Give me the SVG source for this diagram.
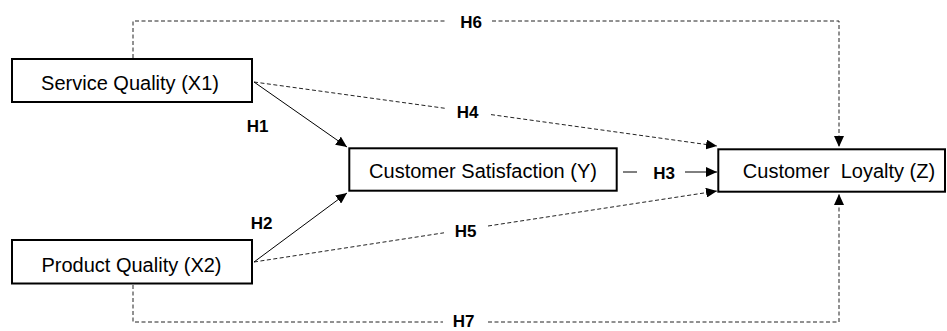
<svg xmlns="http://www.w3.org/2000/svg" width="947" height="331" viewBox="0 0 947 331">
<style>
.box{fill:#fff;stroke:#000;stroke-width:2}
.nt{font-family:"Liberation Sans",Arial,sans-serif;font-size:20px;fill:#000;text-anchor:middle}
.lb{font-family:"Liberation Sans",Arial,sans-serif;font-size:17px;font-weight:bold;fill:#000;text-anchor:middle}
.solid{fill:none;stroke:#000;stroke-width:1}
.dash{fill:none;stroke:#222;stroke-width:1;stroke-dasharray:4 2.5}
</style>
<defs>
<marker id="ah" markerUnits="userSpaceOnUse" markerWidth="11" markerHeight="10" refX="11" refY="5" orient="auto">
<path d="M0,0 L11,5 L0,10 Z" fill="#000"/>
</marker>
</defs>
<rect width="947" height="331" fill="#fff"/>
<g id="connectors">
<path class="dash" d="M133,58 V21 H447"/>
<path class="dash" d="M492,21 H839 V147" marker-end="url(#ah)"/>
<path class="dash" d="M133,285 V322 H443"/>
<path class="dash" d="M488,322 H839 V194" marker-end="url(#ah)"/>
<path class="dash" d="M254,82 L445,108.3"/>
<path class="dash" d="M491,114.6 L717,146" marker-end="url(#ah)"/>
<path class="dash" d="M254,262 L444,232.8"/>
<path class="dash" d="M488,226 L717,191" marker-end="url(#ah)"/>
<path class="solid" d="M254,82 L347,147" marker-end="url(#ah)"/>
<path class="solid" d="M254,262 L347,193" marker-end="url(#ah)"/>
<path class="solid" d="M623,172 H637"/>
<path class="solid" d="M685,172 H717" marker-end="url(#ah)"/>
<text class="lb" x="471" y="28">H6</text>
<text class="lb" x="467.5" y="118">H4</text>
<text class="lb" x="257.5" y="132">H1</text>
<text class="lb" x="261.5" y="229">H2</text>
<text class="lb" x="465.5" y="237">H5</text>
<text class="lb" x="664" y="179">H3</text>
<text class="lb" x="463.5" y="327">H7</text>
</g>
<g id="service-quality">
<rect class="box" x="12" y="59" width="240" height="43"/>
<text class="nt" x="130" y="90">Service Quality (X1)</text>
</g>
<g id="product-quality">
<rect class="box" x="12" y="240" width="240" height="43.5"/>
<text class="nt" x="131.5" y="272">Product Quality (X2)</text>
</g>
<g id="customer-satisfaction">
<rect class="box" x="349.3" y="148.3" width="267.4" height="42.4"/>
<text class="nt" x="483" y="178">Customer Satisfaction (Y)</text>
</g>
<g id="customer-loyalty">
<rect class="box" x="718.3" y="149.3" width="226.7" height="42.4"/>
<text class="nt" x="839" y="178" xml:space="preserve">Customer  Loyalty (Z)</text>
</g>
</svg>
